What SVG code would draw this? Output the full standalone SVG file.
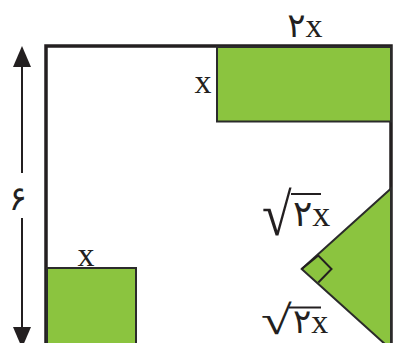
<svg xmlns="http://www.w3.org/2000/svg" width="394" height="343" viewBox="0 0 394 343">
<style>
.shape{fill:#8bc43f;stroke:#2b2b2b;stroke-width:2}
.frame{fill:none;stroke:#231f20;stroke-width:3.5}
.lbl{font-family:"Liberation Serif","DejaVu Serif","DejaVu Sans",serif;fill:#231f20}
.dim{stroke:#231f20;stroke-width:2;fill:none}
.ah{fill:#231f20}
.vin{stroke:#231f20;stroke-width:2}
</style>
<rect width="394" height="343" fill="#ffffff"/>
<g id="frame">
<rect class="frame" x="46" y="46" width="345" height="345"/>
</g>
<g id="top-rect">
<rect class="shape" x="217" y="47" width="174" height="74.5"/>
<text class="lbl" x="305" y="37" font-size="34" text-anchor="middle">۲x</text>
<text class="lbl" x="203" y="93" font-size="34" text-anchor="middle">x</text>
</g>
<g id="square">
<rect class="shape" x="47" y="268" width="89" height="100"/>
<text class="lbl" x="86" y="266" font-size="34" text-anchor="middle">x</text>
</g>
<g id="triangle">
<polygon class="shape" points="301.7,269 391,188.5 391,349.5"/>
<path class="dim" d="M301.7,269 L318.3,255.5 L331.5,269 L318.3,282.5" stroke-width="1.8"/>
<g class="lbl">
<text transform="translate(262,234.5) scale(1.35,1.5)" font-size="40">√</text>
<line class="vin" x1="291" y1="194" x2="321" y2="194"/>
<text x="293" y="226" font-size="36">۲x</text>
<text transform="translate(261,334) scale(1.4,1.02)" font-size="40">√</text>
<line class="vin" x1="289" y1="307.5" x2="321" y2="307.5"/>
<text x="293" y="333" font-size="34">۲x</text>
</g>
</g>
<g id="connectors">
<line class="dim" x1="22" y1="64" x2="22" y2="173"/>
<line class="dim" x1="22" y1="218" x2="22" y2="330"/>
<polygon class="ah" points="22,46 13,67 31,67"/>
<polygon class="ah" points="22,348 13,327 31,327"/>
<text class="lbl" x="18" y="210" font-size="34" text-anchor="middle">۶</text>
</g>
</svg>
